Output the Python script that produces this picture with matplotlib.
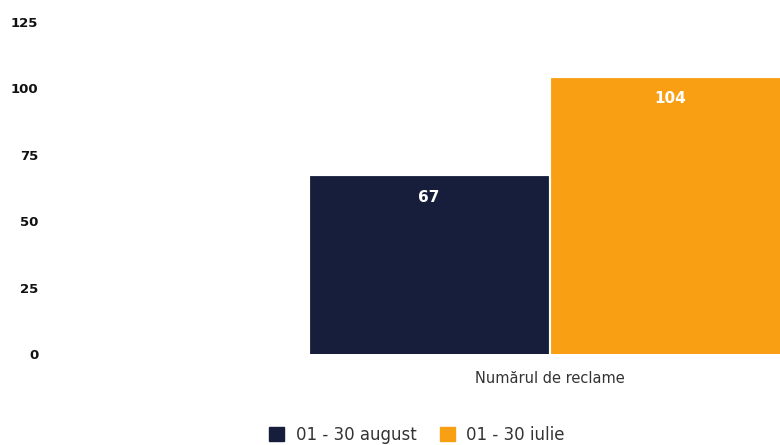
import matplotlib
matplotlib.use("Agg")
import matplotlib.pyplot as plt
from matplotlib.patches import Patch

categories = ["Numărul de reclame"]
series_names = ["01 - 30 august", "01 - 30 iulie"]
august = [67]
iulie = [104]
yticks = [0, 25, 50, 75, 100, 125]
colors = ["#161E3C", "#F99F14"]

fig = plt.figure(figsize=(7.8, 4.45), dpi=100)
ax = fig.add_axes([55/780, (445-354)/445, (780-55)/780, (354-22)/445])

w = 1.0
off = 0.506
xs = list(range(len(categories)))
for vals, name, col, sgn in [(august, series_names[0], colors[0], -1), (iulie, series_names[1], colors[1], 1)]:
    pos = [x + sgn*off for x in xs]
    bars = ax.bar(pos, vals, width=w, color=col, edgecolor=col, linewidth=0.6, label=name)
    for b, v in zip(bars, vals):
        ax.annotate(str(v), (b.get_x() + b.get_width()/2, b.get_height()),
                    xytext=(0, -21), textcoords="offset pixels",
                    ha="center", va="center", color="white",
                    fontsize=11, fontweight="bold")

ax.set_xlim((55-549.5)/238, (780-549.5)/238)
ax.set_ylim(0, 125)
ax.set_yticks(yticks)
ax.set_yticklabels([str(t) for t in yticks], fontsize=9.5, fontweight="bold", color="#111111")
ax.set_xticks(xs)
ax.set_xticklabels(categories, fontsize=10.5, color="#333333")
ax.tick_params(axis="y", length=0, pad=12)
ax.tick_params(axis="x", length=0, pad=12)
for s in ax.spines.values():
    s.set_visible(False)

handles = [Patch(color=c, label=n) for c, n in zip(colors, series_names)]
fig.legend(handles=handles, loc="center", bbox_to_anchor=(417/780, 1-435/445),
           ncol=2, frameon=False, fontsize=12, labelcolor="#333333",
           handlelength=0.9, handleheight=0.9, handletextpad=0.7, columnspacing=1.4)

fig.savefig("out.png", dpi=100)
